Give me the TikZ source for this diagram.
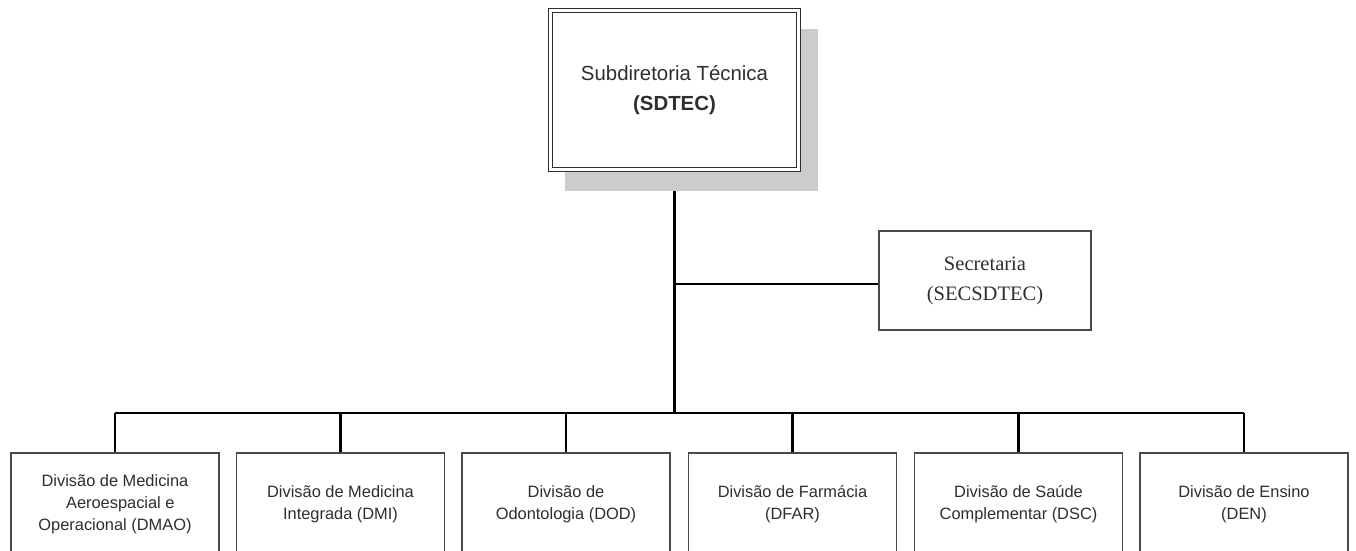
\documentclass[tikz,border=0pt]{standalone}
\usepackage{fontspec}
\setmainfont{Liberation Sans}
\newfontfamily\serifface{Liberation Serif}
\usetikzlibrary{shadows,backgrounds}
\definecolor{inkgray}{HTML}{2E2E2E}
\definecolor{boxline}{HTML}{4A4A4A}
\definecolor{shadowgray}{HTML}{CCCCCC}
\begin{document}
\begin{tikzpicture}[x=0.75pt,y=-0.75pt,
  conn/.style={draw=black,line width=1.9pt},
  headbox/.style={draw=inkgray,line width=0.9pt,double=white,double distance=2.4pt,
    fill=white,minimum width=186pt,minimum height=119.25pt,align=center,
    font=\fontsize{15.3}{21}\selectfont,text=inkgray,
    drop shadow={shadow xshift=12.75pt,shadow yshift=-15pt,shadow scale=1.02,
      fill=shadowgray,opacity=1}},
  secbox/.style={draw=boxline,line width=1.2pt,fill=white,minimum width=159pt,
    minimum height=74.25pt,align=center,
    font=\serifface\fontsize{15.4}{22.5}\selectfont,text=inkgray},
  divbox/.style={draw=boxline,line width=1.2pt,fill=white,minimum width=156pt,
    minimum height=76.5pt,align=center,
    font=\fontsize{12.3}{16.5}\selectfont,text=inkgray}]
\path[use as bounding box,clip] (0,0) rectangle (1356,550);

% head office
\node[headbox] (top) at (674.5,90) {Subdiretoria Técnica\\[1pt]\textbf{(SDTEC)}};

% staff office
\node[secbox] (sec) at (985,280.5) {Secretaria\\(SECSDTEC)};

% divisions
\node[divbox] (d1) at (115,504) {Divisão de Medicina\\\hspace*{8pt}Aeroespacial e\\Operacional (DMAO)};
\node[divbox] (d2) at (340.5,504) {Divisão de Medicina\\Integrada (DMI)};
\node[divbox] (d3) at (566,504) {Divisão de\\Odontologia (DOD)};
\node[divbox] (d4) at (792.5,504) {Divisão de Farmácia\\(DFAR)};
\node[divbox] (d5) at (1018.5,504) {Divisão de Saúde\\Complementar (DSC)};
\node[divbox] (d6) at (1244,504) {Divisão de Ensino\\(DEN)};

% junctions on the trunk
\coordinate (jn) at (674.5,284);
\coordinate (bus) at (674.5,413);

\begin{scope}[on background layer]
  \draw[conn] (top.south) -- (bus);
  \draw[conn] (jn) -- (jn -| sec.west);
  \draw[conn] (d1.north |- bus) -- (d6.north |- bus);
  \foreach \d in {d1,d2,d3,d4,d5,d6}
    \draw[conn] (\d.north |- bus) -- (\d.north);
\end{scope}
\end{tikzpicture}
\end{document}
